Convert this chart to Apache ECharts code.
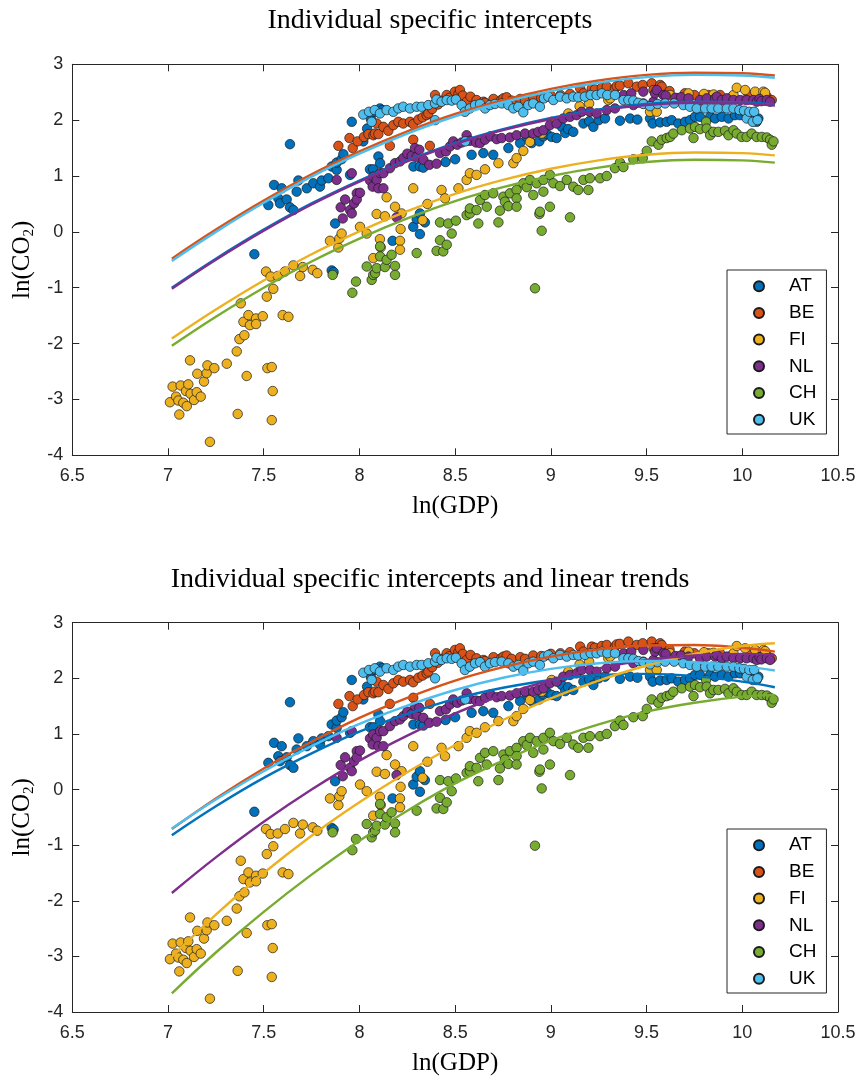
<!DOCTYPE html>
<html>
<head>
<meta charset="utf-8">
<script src="https://cdn.jsdelivr.net/npm/echarts@6/dist/echarts.min.js"></script>
<style>
  html, body { margin: 0; padding: 0; background: #fff; }
  #chart { width: 860px; height: 1077px; }
</style>
</head>
<body>
<div id="chart"></div>
<script>
// Country panel data: [ln(GDP), ln(CO2)] per year
const countries = ['AT', 'BE', 'FI', 'NL', 'CH', 'UK'];
const colors = ['#0072BD', '#D95319', '#EDB120', '#7E2F8E', '#77AC30', '#4DBEEE'];

const AT = [[7.451,-0.40],[7.524,0.48],[7.554,0.84],[7.576,0.60],[7.585,0.51],[7.594,0.78],[7.620,0.58],[7.637,0.44],[7.637,1.57],[7.655,0.39],[7.672,0.72],[7.681,0.92],[7.725,0.78],[7.759,0.87],[7.794,0.81],[7.803,0.92],[7.838,0.96],[7.855,1.17],[7.855,-0.69],[7.865,-0.72],[7.873,0.15],[7.881,1.11],[7.881,1.24],[7.907,1.30],[7.916,1.39],[7.951,1.02],[7.96,1.97],[8.02,1.62],[8.04,1.85],[8.055,1.12],[8.06,2.02],[8.072,1.12],[8.08,2.15],[8.099,1.35],[8.107,2.21],[8.108,1.23],[8.12,2.18],[8.173,-0.16],[8.281,0.09],[8.282,1.17],[8.299,0.23],[8.316,0.33],[8.316,-0.04],[8.316,1.17],[8.334,1.15],[8.342,0.17],[8.45,1.25],[8.50,1.30],[8.586,1.38],[8.647,1.41],[8.699,1.38],[8.778,1.50],[8.839,1.59],[8.874,1.70],[8.90,1.59],[8.94,1.62],[8.961,1.71],[8.98,1.75],[9.004,1.70],[9.03,1.68],[9.057,1.88],[9.075,1.77],[9.09,1.84],[9.117,1.79],[9.17,1.94],[9.2,1.98],[9.222,1.88],[9.25,2.0],[9.283,2.03],[9.361,1.99],[9.414,2.03],[9.452,2.01],[9.518,2.03],[9.532,1.94],[9.571,1.96],[9.605,1.97],[9.631,2.00],[9.666,1.94],[9.701,1.97],[9.727,2.00],[9.753,2.06],[9.779,2.06],[9.832,2.06],[9.858,2.03],[9.893,2.06],[9.928,2.03],[9.962,2.09],[9.989,2.09],[10.023,2.09],[10.058,2.06],[10.075,1.97],[10.084,2.03]];

const BE = [[7.89,1.54],[7.948,1.68],[7.965,1.50],[7.99,1.62],[8.024,1.70],[8.047,1.75],[8.073,1.73],[8.081,1.76],[8.09,1.94],[8.099,1.75],[8.125,1.88],[8.151,1.81],[8.159,1.54],[8.177,1.91],[8.203,1.97],[8.229,1.94],[8.264,1.97],[8.281,1.93],[8.281,1.65],[8.308,2.01],[8.33,2.05],[8.351,2.09],[8.36,2.12],[8.368,1.54],[8.38,2.20],[8.395,2.45],[8.41,2.28],[8.43,2.35],[8.456,2.45],[8.47,2.40],[8.499,2.51],[8.517,2.47],[8.525,2.54],[8.54,2.44],[8.56,2.33],[8.58,2.42],[8.612,2.36],[8.648,2.33],[8.656,2.31],[8.70,2.38],[8.74,2.36],[8.752,2.39],[8.769,2.41],[8.795,2.35],[8.84,2.38],[8.865,2.35],[8.908,2.41],[8.95,2.40],[9.0,2.44],[9.05,2.45],[9.1,2.47],[9.153,2.57],[9.17,2.48],[9.214,2.57],[9.23,2.55],[9.266,2.58],[9.292,2.60],[9.335,2.57],[9.344,2.61],[9.36,2.62],[9.405,2.66],[9.449,2.60],[9.48,2.63],[9.527,2.66],[9.536,2.54],[9.571,2.63],[9.579,2.60],[9.62,2.52],[9.70,2.48],[9.75,2.45],[9.823,2.45],[9.884,2.45],[9.95,2.43],[10.032,2.45],[10.08,2.44],[10.128,2.42],[10.154,2.36]];

const FI = [[7.01,-3.05],[7.024,-2.77],[7.042,-2.95],[7.054,-3.02],[7.059,-3.27],[7.066,-2.75],[7.08,-3.06],[7.094,-2.85],[7.098,-3.12],[7.106,-2.73],[7.115,-2.30],[7.118,-2.90],[7.136,-3.01],[7.15,-2.87],[7.153,-2.54],[7.171,-2.95],[7.188,-2.68],[7.202,-2.53],[7.206,-2.39],[7.219,-3.76],[7.242,-2.44],[7.307,-2.36],[7.359,-2.14],[7.364,-3.26],[7.373,-1.92],[7.38,-1.28],[7.394,-1.61],[7.399,-1.85],[7.411,-2.58],[7.42,-1.49],[7.428,-1.67],[7.46,-1.55],[7.46,-1.65],[7.495,-1.51],[7.516,-1.16],[7.519,-2.44],[7.542,-2.42],[7.542,-3.37],[7.547,-2.85],[7.55,-1.02],[7.599,-1.49],[7.629,-1.52],[7.512,-0.71],[7.536,-0.80],[7.573,-0.79],[7.611,-0.71],[7.655,-0.60],[7.69,-0.79],[7.704,-0.63],[7.756,-0.68],[7.78,-0.74],[7.846,-0.16],[7.89,-0.28],[7.895,-0.12],[7.907,-0.03],[8.003,0.09],[8.038,-0.03],[8.072,-0.47],[8.09,0.32],[8.107,-0.13],[8.111,-0.28],[8.133,0.28],[8.142,0.62],[8.186,0.45],[8.212,-0.16],[8.212,-0.32],[8.215,0.05],[8.22,0.33],[8.281,0.78],[8.33,0.21],[8.355,0.50],[8.429,0.75],[8.447,0.60],[8.517,0.78],[8.56,0.93],[8.577,1.05],[8.612,1.02],[8.656,1.12],[8.726,1.23],[8.804,1.23],[8.821,1.32],[8.856,1.45],[8.891,1.61],[8.952,1.76],[9.004,1.97],[9.091,2.12],[9.15,2.25],[9.2,2.30],[9.3,2.36],[9.31,2.39],[9.518,2.15],[9.553,2.15],[9.623,2.45],[9.658,2.39],[9.719,2.48],[9.80,2.47],[9.85,2.46],[9.954,2.45],[9.971,2.58],[10.015,2.54],[10.067,2.51],[10.11,2.51],[10.119,2.49]];

const NL = [[7.881,0.93],[7.902,0.44],[7.913,0.24],[7.925,0.58],[7.951,0.39],[7.96,1.05],[7.96,0.33],[7.972,0.51],[7.986,0.69],[7.986,0.58],[8.003,0.70],[8.055,0.92],[8.069,0.81],[8.072,0.99],[8.09,0.93],[8.099,0.78],[8.108,1.05],[8.125,0.78],[8.125,1.05],[8.159,1.14],[8.186,1.23],[8.194,0.26],[8.212,1.26],[8.229,1.32],[8.25,1.40],[8.273,1.36],[8.29,1.50],[8.299,1.34],[8.313,1.47],[8.334,1.29],[8.365,1.20],[8.403,1.22],[8.421,1.41],[8.452,1.44],[8.473,1.53],[8.49,1.62],[8.511,1.56],[8.534,1.60],[8.56,1.73],[8.577,1.63],[8.609,1.60],[8.63,1.59],[8.656,1.65],[8.685,1.71],[8.717,1.66],[8.743,1.68],[8.786,1.69],[8.821,1.73],[8.865,1.76],[8.908,1.76],[8.934,1.79],[8.961,1.82],[8.995,1.91],[9.03,1.94],[9.065,2.03],[9.1,2.06],[9.135,2.09],[9.161,2.15],[9.204,2.15],[9.239,2.12],[9.292,2.18],[9.335,2.21],[9.38,2.45],[9.42,2.48],[9.431,2.27],[9.483,2.51],[9.483,2.30],[9.536,2.33],[9.544,2.48],[9.553,2.54],[9.588,2.45],[9.6,2.44],[9.65,2.40],[9.68,2.41],[9.719,2.39],[9.779,2.36],[9.814,2.39],[9.858,2.39],[9.867,2.42],[9.893,2.36],[9.919,2.39],[9.954,2.36],[9.989,2.36],[10.023,2.36],[10.058,2.36],[10.076,2.33],[10.09,2.38],[10.1,2.34],[10.128,2.36],[10.145,2.33]];

const CH = [[7.86,-0.77],[7.963,-1.09],[7.982,-0.89],[8.038,-0.62],[8.064,-0.86],[8.072,-0.77],[8.082,-0.74],[8.09,-0.65],[8.108,-0.44],[8.108,-0.26],[8.133,-0.63],[8.142,-0.50],[8.168,-0.41],[8.186,-0.61],[8.186,-0.77],[8.299,-0.38],[8.403,-0.34],[8.421,0.17],[8.421,-0.15],[8.438,-0.35],[8.456,-0.23],[8.464,0.15],[8.482,-0.03],[8.504,0.20],[8.56,0.30],[8.577,0.33],[8.577,0.42],[8.612,0.39],[8.621,0.15],[8.63,0.57],[8.656,0.66],[8.665,0.45],[8.699,0.69],[8.726,0.17],[8.734,0.38],[8.752,0.63],[8.76,0.54],[8.778,0.46],[8.786,0.69],[8.821,0.75],[8.821,0.60],[8.821,0.45],[8.856,0.87],[8.874,0.80],[8.891,0.93],[8.908,0.66],[8.917,-1.01],[8.926,0.87],[8.94,0.32],[8.943,0.36],[8.952,0.02],[8.961,0.93],[8.961,0.72],[8.995,1.02],[8.995,0.45],[9.013,0.87],[9.048,0.82],[9.083,0.93],[9.1,0.26],[9.117,0.81],[9.143,0.75],[9.17,0.93],[9.196,0.75],[9.204,0.96],[9.257,0.96],[9.292,1.00],[9.335,1.14],[9.361,1.24],[9.379,1.16],[9.431,1.30],[9.48,1.32],[9.501,1.45],[9.527,1.62],[9.562,1.56],[9.579,1.65],[9.605,1.68],[9.623,1.70],[9.64,1.76],[9.684,1.82],[9.727,1.85],[9.745,1.68],[9.753,1.88],[9.779,1.84],[9.811,1.97],[9.814,1.85],[9.832,1.73],[9.849,1.79],[9.875,1.79],[9.91,1.81],[9.928,1.73],[9.954,1.82],[9.971,1.76],[9.997,1.70],[10.023,1.70],[10.049,1.76],[10.075,1.70],[10.102,1.70],[10.128,1.69],[10.145,1.65],[10.154,1.56],[10.163,1.62]];

const UK = [[8.02,2.10],[8.05,2.15],[8.064,1.97],[8.08,2.18],[8.107,2.12],[8.142,2.18],[8.177,2.15],[8.203,2.21],[8.229,2.24],[8.264,2.21],[8.299,2.24],[8.325,2.24],[8.36,2.27],[8.395,2.30],[8.395,2.0],[8.403,2.37],[8.429,2.33],[8.456,2.36],[8.482,2.35],[8.504,2.37],[8.534,2.27],[8.551,2.15],[8.553,1.62],[8.577,2.21],[8.604,2.27],[8.63,2.29],[8.656,2.21],[8.682,2.27],[8.708,2.29],[8.743,2.30],[8.778,2.27],[8.804,2.21],[8.83,2.24],[8.856,2.14],[8.882,2.27],[8.908,2.30],[8.943,2.24],[8.964,2.39],[8.987,2.42],[9.013,2.36],[9.048,2.42],[9.083,2.39],[9.117,2.42],[9.143,2.41],[9.178,2.42],[9.208,2.45],[9.239,2.45],[9.266,2.48],[9.295,2.45],[9.335,2.45],[9.379,2.36],[9.405,2.36],[9.431,2.35],[9.457,2.31],[9.483,2.29],[9.518,2.25],[9.557,2.29],[9.597,2.30],[9.644,2.30],[9.692,2.27],[9.727,2.24],[9.762,2.21],[9.806,2.21],[9.84,2.21],[9.875,2.21],[9.919,2.21],[9.954,2.21],[9.985,2.18],[10.009,2.17],[10.023,2.03],[10.037,2.15],[10.055,1.97],[10.062,2.15],[10.079,2.00]];

// Fitted curves, sampled along ln(GDP)
const fitX = [7.02, 7.25, 7.5, 7.75, 8, 8.25, 8.5, 8.75, 9, 9.25, 9.5, 9.75, 10, 10.17];

// Panel 1: individual specific intercepts
const fit1AT = [-1.00, -0.48, 0.04, 0.51, 0.92, 1.28, 1.59, 1.84, 2.04, 2.19, 2.29, 2.33, 2.32, 2.28];
const fit1BE = [-0.48, 0.04, 0.56, 1.03, 1.44, 1.80, 2.11, 2.36, 2.56, 2.71, 2.81, 2.85, 2.84, 2.80];
const fit1FI = [-1.91, -1.39, -0.87, -0.40, 0.01, 0.37, 0.68, 0.93, 1.13, 1.28, 1.38, 1.42, 1.41, 1.37];
const fit1NL = [-1.02, -0.50, 0.02, 0.49, 0.90, 1.26, 1.57, 1.82, 2.02, 2.17, 2.27, 2.31, 2.30, 2.26];
const fit1CH = [-2.04, -1.52, -1.00, -0.53, -0.12, 0.24, 0.55, 0.80, 1.00, 1.15, 1.25, 1.29, 1.28, 1.24];
const fit1UK = [-0.52, 0.00, 0.52, 0.99, 1.40, 1.76, 2.07, 2.32, 2.52, 2.67, 2.77, 2.81, 2.80, 2.76];

// Panel 2: individual specific intercepts and linear trends
const fit2AT = [-0.82, -0.30, 0.21, 0.65, 1.04, 1.36, 1.63, 1.83, 1.97, 2.06, 2.08, 2.04, 1.94, 1.84];
const fit2BE = [-0.71, -0.16, 0.38, 0.86, 1.29, 1.65, 1.96, 2.20, 2.39, 2.52, 2.59, 2.60, 2.55, 2.48];
const fit2FI = [-3.01, -2.25, -1.50, -0.83, -0.23, 0.31, 0.80, 1.25, 1.64, 1.96, 2.23, 2.44, 2.58, 2.63];
const fit2NL = [-1.86, -1.22, -0.58, 0.00, 0.52, 0.97, 1.37, 1.70, 1.97, 2.18, 2.33, 2.41, 2.44, 2.42];
const fit2CH = [-3.665, -2.93, -2.20, -1.53, -0.92, -0.38, 0.11, 0.52, 0.88, 1.17, 1.40, 1.56, 1.67, 1.70];
const fit2UK = [-0.70, -0.18, 0.33, 0.78, 1.18, 1.51, 1.79, 2.01, 2.17, 2.27, 2.31, 2.29, 2.22, 2.14];

const xTicks = { min: 6.5, max: 10.5, interval: 0.5 };
const yTicks = { min: -4, max: 3, interval: 1 };

const points = [AT, BE, FI, NL, CH, UK];
const fits = [
  [fit1AT, fit1BE, fit1FI, fit1NL, fit1CH, fit1UK],
  [fit2AT, fit2BE, fit2FI, fit2NL, fit2CH, fit2UK]
];
const titles = ['Individual specific intercepts', 'Individual specific intercepts and linear trends'];

const axisColor = '#262626';
const sans = 'Liberation Sans, Arial, Helvetica, sans-serif';
const serif = 'Liberation Serif, Times New Roman, serif';

const gridTops = [64.3, 622.7];
const grids = gridTops.map(t => ({ left: 72.3, top: t, width: 765.7, height: 391, containLabel: false }));

const xAxes = [];
const yAxes = [];
gridTops.forEach((t, g) => {
  xAxes.push({
    type: 'value', gridIndex: g, position: 'bottom',
    min: xTicks.min, max: xTicks.max, interval: xTicks.interval,
    axisLine: { onZero: false, lineStyle: { color: axisColor, width: 1 } },
    axisTick: { inside: true, length: 7, lineStyle: { color: axisColor } },
    axisLabel: { color: axisColor, fontSize: 18, fontFamily: sans, margin: 12 },
    splitLine: { show: false },
    name: 'ln(GDP)', nameLocation: 'middle', nameGap: 39,
    nameTextStyle: { fontFamily: serif, fontSize: 25, color: '#000' }
  });
  xAxes.push({
    type: 'value', gridIndex: g, position: 'top',
    min: xTicks.min, max: xTicks.max, interval: xTicks.interval,
    axisLine: { onZero: false, lineStyle: { color: axisColor, width: 1 } },
    axisTick: { inside: true, length: 7, lineStyle: { color: axisColor } },
    axisLabel: { show: false }, splitLine: { show: false }
  });
  yAxes.push({
    type: 'value', gridIndex: g, position: 'left',
    min: yTicks.min, max: yTicks.max, interval: yTicks.interval,
    axisLine: { show: true, onZero: false, lineStyle: { color: axisColor, width: 1 } },
    axisTick: { show: true, inside: true, length: 7, lineStyle: { color: axisColor } },
    axisLabel: { color: axisColor, fontSize: 18, fontFamily: sans, margin: 9 },
    splitLine: { show: false },
    name: '{a|ln(CO}{s|2}{a|)}', nameLocation: 'middle', nameGap: 34, nameRotate: 90,
    nameTextStyle: {
      color: '#000',
      rich: {
        a: { fontFamily: serif, fontSize: 25, lineHeight: 28, color: '#000' },
        s: { fontFamily: serif, fontSize: 15, lineHeight: 14, verticalAlign: 'bottom', color: '#000' }
      }
    }
  });
  yAxes.push({
    type: 'value', gridIndex: g, position: 'right',
    min: yTicks.min, max: yTicks.max, interval: yTicks.interval,
    axisLine: { show: true, onZero: false, lineStyle: { color: axisColor, width: 1 } },
    axisTick: { show: true, inside: true, length: 7, lineStyle: { color: axisColor } },
    axisLabel: { show: false }, splitLine: { show: false }
  });
});

const series = [];
[0, 1].forEach(g => {
  countries.forEach((c, i) => {
    series.push({
      name: c, type: 'scatter', xAxisIndex: g * 2, yAxisIndex: g * 2,
      data: points[i], symbol: 'circle', symbolSize: 9.5, z: 2,
      itemStyle: { color: colors[i], borderColor: '#1a1a1a', borderWidth: 0.7, opacity: 1 },
      emphasis: { disabled: true }
    });
  });
  countries.forEach((c, i) => {
    series.push({
      name: c + ' fit', type: 'line', xAxisIndex: g * 2, yAxisIndex: g * 2,
      data: fitX.map((x, k) => [x, fits[g][i][k]]),
      smooth: 0.4, showSymbol: false, symbol: 'none', z: 3,
      lineStyle: { color: colors[i], width: 2.4 },
      itemStyle: { color: colors[i] },
      emphasis: { disabled: true }
    });
  });
});

const legendTops = [270, 829];
const legends = legendTops.map(t => ({
  data: countries, orient: 'vertical', left: 727, top: t,
  padding: [6.7, 10, 4.8, 26], itemWidth: 10, itemHeight: 10, itemGap: 7.7,
  icon: 'circle', selectedMode: false,
  borderColor: axisColor, borderWidth: 1, backgroundColor: '#fff',
  formatter: '{t|{name}}',
  textStyle: {
    rich: { t: { fontFamily: sans, fontSize: 19, lineHeight: 20, color: '#000', padding: [0, 0, 0, 20] } }
  }
}));

const chart = echarts.init(document.getElementById('chart'), null, { renderer: 'canvas' });
chart.setOption({
  animation: false,
  backgroundColor: '#fff',
  title: titles.map((t, k) => ({
    text: t, left: 'center', top: k === 0 ? 2 : 561,
    textStyle: { fontFamily: serif, fontSize: 28, fontWeight: 'normal', color: '#000' }
  })),
  grid: grids,
  xAxis: xAxes,
  yAxis: yAxes,
  legend: legends,
  series: series
});
</script>
</body>
</html>
